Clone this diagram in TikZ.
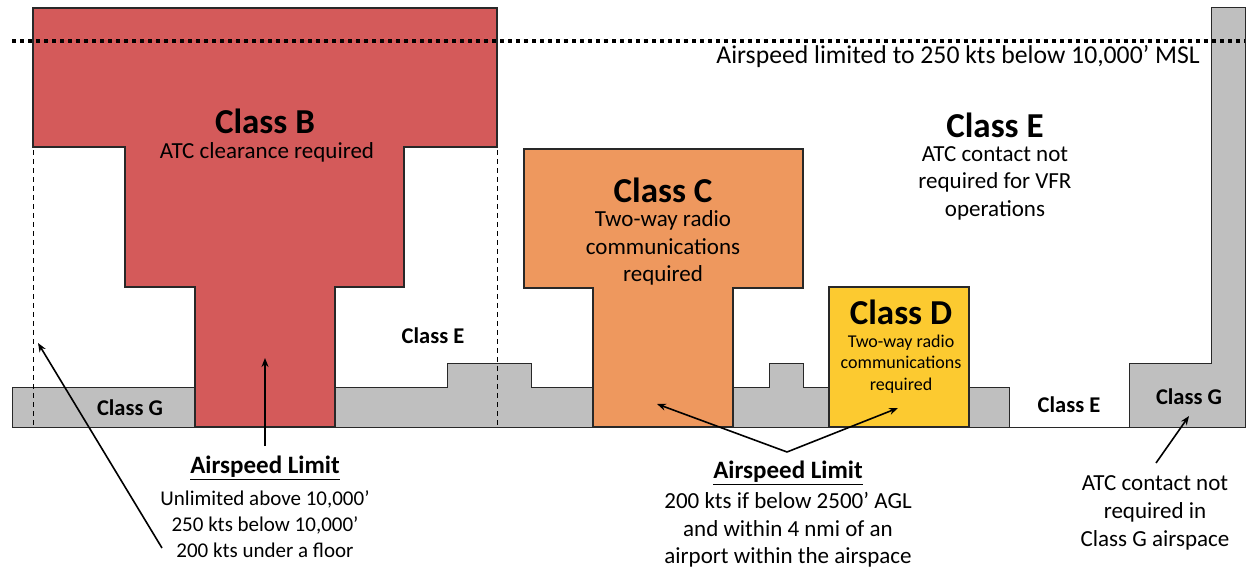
\documentclass[tikz,border=0pt]{standalone}
\usepackage{fontspec}
\setmainfont{Carlito}
\usetikzlibrary{arrows.meta}
\definecolor{clsB}{RGB}{212,90,90}
\definecolor{clsC}{RGB}{238,152,94}
\definecolor{clsD}{RGB}{252,202,48}
\definecolor{grnd}{RGB}{191,191,191}
\definecolor{edge}{RGB}{40,40,40}
\begin{document}
\begin{tikzpicture}[x=1pt,y=-1pt,
  zone/.style={draw=edge,line width=1.4pt,line join=miter},
  lbl/.style={inner sep=0pt,align=center,text=black},
  ttl/.style={lbl,font=\fontsize{35}{40}\selectfont\bfseries},
  sub/.style={lbl,font=\fontsize{23}{27.5}\selectfont},
  subsm/.style={lbl,font=\fontsize{18}{21.5}\selectfont},
  sml/.style={lbl,font=\fontsize{22.5}{26}\selectfont\bfseries},
  topnote/.style={lbl,font=\fontsize{25.7}{30}\selectfont},
  hd/.style={lbl,font=\fontsize{25}{30}\selectfont\bfseries},
  bodyL/.style={lbl,font=\fontsize{21}{26}\selectfont},
  bodyR/.style={lbl,font=\fontsize{23}{28}\selectfont},
  arr/.style={-{Stealth[length=9pt,width=7pt]},line width=1.6pt},
  guide/.style={draw=black,line width=0.9pt,dash pattern=on 5pt off 4pt},
  ceiling/.style={draw=black,line width=3.5pt,dash pattern=on 3.5pt off 4.5pt}
]
\useasboundingbox (0,0) rectangle (1248,569);
% ground (class G)
\draw[zone,fill=grnd,line width=1pt] (12,427) -- (12,387) -- (447,387) -- (447,364) -- (531,364) -- (531,387)
  -- (769,387) -- (769,364) -- (803,364) -- (803,387) -- (1009,387) -- (1009,427) -- cycle;
\draw[zone,fill=grnd,line width=1pt] (1129,427) -- (1129,364) -- (1211,364) -- (1211,8) -- (1245,8) -- (1245,427) -- cycle;
\draw[draw=edge,line width=1pt] (1009,427) -- (1129,427);
% class B
\draw[zone,fill=clsB] (33,8) -- (497,8) -- (497,147) -- (404,147) -- (404,287) -- (335,287) -- (335,427)
  -- (195,427) -- (195,287) -- (125,287) -- (125,147) -- (33,147) -- cycle;
% class C
\draw[zone,fill=clsC] (524,149) -- (803,149) -- (803,288) -- (733,288) -- (733,427) -- (593,427)
  -- (593,288) -- (524,288) -- cycle;
% class D
\draw[zone,fill=clsD] (829,287) rectangle (969,427);
% dashed lateral limits of class B
\draw[guide] (33,150) -- (33,427);
\draw[guide] (497,150) -- (497,427);
% 10,000 ft line
\draw[ceiling] (12,41) -- (1245,41);

% labels
\node[ttl] (tB) at (265,121) {Class B};
\node[sub] (sB) at (267,152) {ATC clearance required};
\node[ttl] (tC) at (663,190) {Class C};
\node[sub] (sC) at (663,248) {Two-way radio\\communications\\required};
\node[ttl] (tD) at (901,312) {Class D};
\node[subsm] (sD) at (901,364) {Two-way radio\\communications\\required};
\node[ttl] (tE) at (995,125) {Class E};
\node[sub] (sE) at (995,183) {ATC contact not\\required for VFR\\operations};
\node[topnote] (lim) at (958,57) {Airspeed limited to 250 kts below 10,000’ MSL};
\node[sml] (eB) at (433,336) {Class E};
\node[sml] (gL) at (130,408) {Class G};
\node[sml] (eR) at (1069,405) {Class E};
\node[sml] (gR) at (1189,397) {Class G};

\node[hd] (h1) at (265,468) {\underline{Airspeed Limit}};
\node[bodyL] (b1) at (265,524) {Unlimited above 10,000’\\250 kts below 10,000’\\200 kts under a floor};
\node[hd] (h2) at (788,473) {\underline{Airspeed Limit}};
\node[sub] (b2) at (788,530) {200 kts if below 2500’ AGL\\and within 4 nmi of an\\airport within the airspace};
\node[bodyR] (b3) at (1155,513) {ATC contact not\\required in\\Class G airspace};

% arrows
\coordinate (bTail) at (265,446);
\coordinate (bHead) at (265,358);
\coordinate (lTail) at (162,548);
\coordinate (lHead) at (38,343);
\coordinate (mV) at (787,452);
\coordinate (cHead) at (657,404);
\coordinate (dHead) at (898,408);
\coordinate (rTail) at (1156,463);
\coordinate (rHead) at (1189,416);
\draw[arr] (bTail) -- (bHead);
\draw[arr] (lTail) -- (lHead);
\draw[arr] (mV) -- (cHead);
\draw[arr] (mV) -- (dHead);
\draw[arr] (rTail) -- (rHead);
\end{tikzpicture}
\end{document}
